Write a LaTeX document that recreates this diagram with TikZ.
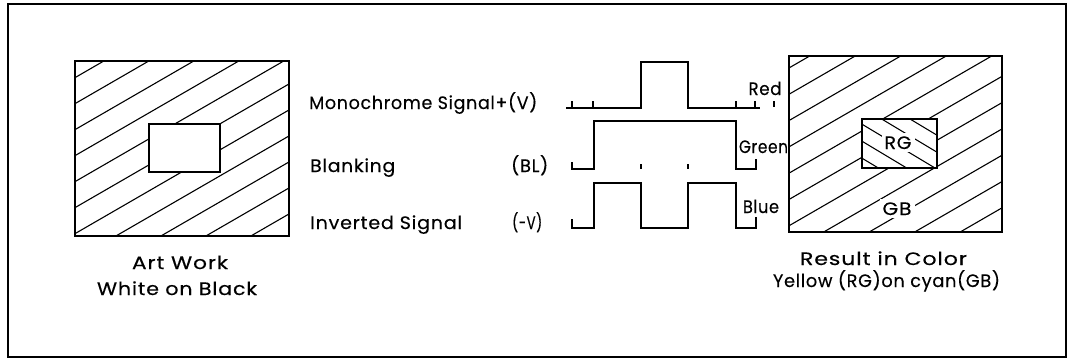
\documentclass[tikz,border=0pt]{standalone}
\usepackage{fontspec}
\usepackage{graphicx}
\setmainfont{Poppins}
\newfontfamily\lf[LetterSpace=4,FakeBold=0.3]{Poppins}
\newcommand\fitw[2]{\resizebox{#1pt}{\height}{#2}}
\begin{document}
\begin{tikzpicture}[x=1pt,y=-1pt,
  frame/.style={draw, line width=2pt, inner sep=0pt},
  box/.style={draw, line width=1.6pt, inner sep=0pt},
  hatch/.style={line width=1.1pt},
  wave/.style={line width=1.4pt},
  lbl/.style={font=\lf\fontsize{18}{21}\selectfont, inner sep=0pt},
  ]
\useasboundingbox (0,0) rectangle (1073,359);
\node[frame, minimum width=1058pt, minimum height=353pt] (frame) at (537,180.5) {};

% left art work
\begin{scope}
\clip (75,61) rectangle (289,236);
\foreach \n in {0,...,10} {\draw[hatch] (70,{121+26*\n-0.578*70}) -- (295,{121+26*\n-0.578*295});}
\end{scope}
\node[box, minimum width=214pt, minimum height=175pt] (art) at (182,148.5) {};
\node[box, fill=white, minimum width=71pt, minimum height=48pt] (artin) at (184.5,148) {};

% right result
\begin{scope}
\clip (789,56) rectangle (1002,232);
\foreach \n in {0,...,10} {\draw[hatch] (780,{524+26.3*\n-0.578*780}) -- (1010,{524+26.3*\n-0.578*1010});}
\end{scope}
\node[box, minimum width=213pt, minimum height=176pt] (res) at (895.5,144) {};
\node[box, fill=white, minimum width=75pt, minimum height=49pt] (resin) at (899.5,143.5) {};
\begin{scope}
\clip (862,119) rectangle (937,168);
\foreach \m in {0,...,4} {\draw[hatch] (855,{0.6*855-427+17*\m}) -- (945,{0.6*945-427+17*\m});}
\end{scope}
\node[box, minimum width=75pt, minimum height=49pt] (resinb) at (899.5,143.5) {};
\node[lbl, anchor=base, fill=white, inner sep=3pt] (rg) at (898,149) {\fitw{27}{RG}};
\node[lbl, anchor=base, fill=white, inner sep=3pt] (gb) at (897,215) {\fitw{29}{GB}};

% waveforms
\draw[wave] (566,108) -- (641,108) -- (641,62) -- (688,62) -- (688,108) -- (760,108);
\foreach \x in {572,593,736,755} {\draw[wave] (\x,108) -- (\x,101);}
\draw[wave] (774,101) -- (774,107);
\draw[wave] (572,162) -- (572,169) -- (594,169) -- (594,121) -- (736,121) -- (736,169) -- (756,169) -- (756,159);
\draw[wave] (641,164) -- (641,169);
\draw[wave] (688,164) -- (688,169);
\draw[wave] (572,219) -- (572,228) -- (594,228) -- (594,183) -- (641,183) -- (641,228) -- (688,228) -- (688,183) -- (736,183) -- (736,228) -- (756,228) -- (756,217);

% labels
\node[lbl, anchor=base west] (mono) at (309,109) {\fitw{228}{Monochrome Signal+(V)}};
\node[lbl, anchor=base west] (blank) at (310,172) {\fitw{85}{Blanking}};
\node[lbl, anchor=base west] (bl) at (511,172) {\fitw{37}{(BL)}};
\node[lbl, anchor=base west] (inv) at (310,229) {\fitw{152}{Inverted Signal}};
\node[lbl, anchor=base west] (mv) at (512,229) {\fitw{30}{(-V)}};
\node[lbl, anchor=base] (red) at (765,95) {\fitw{33}{Red}};
\node[lbl, anchor=base] (green) at (763.5,153) {\fitw{49}{Green}};
\node[lbl, anchor=base] (blue) at (761,213) {\fitw{36}{Blue}};
\node[lbl, anchor=base] (aw1) at (180,269) {\fitw{96}{Art Work}};
\node[lbl, anchor=base] (aw2) at (177,295) {\fitw{160}{White on Black}};
\node[lbl, anchor=base] (r1) at (883.5,265) {\fitw{167}{Result in Color}};
\node[lbl, anchor=base] (r2) at (886.5,287) {\fitw{227}{Yellow (RG)on cyan(GB)}};
\end{tikzpicture}
\end{document}
